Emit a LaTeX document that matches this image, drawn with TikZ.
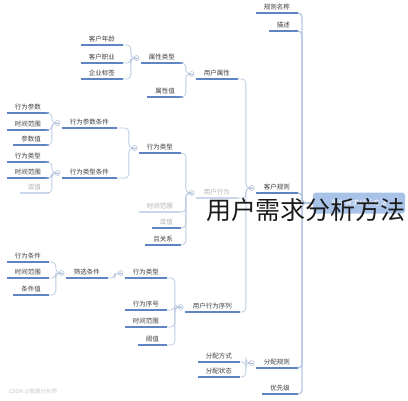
\documentclass[tikz,border=0pt]{standalone}
\usepackage{fontspec}
\setmainfont{Noto Sans CJK SC}
\usetikzlibrary{calc,positioning}

\definecolor{txt}{HTML}{3D3D3D}
\definecolor{fade}{HTML}{B0B0B0}
\definecolor{ulinec}{HTML}{5F84C4}
\definecolor{upalec}{HTML}{C9D6EB}
\definecolor{linkc}{HTML}{BCCBE3}
\definecolor{trunkc}{HTML}{B3C6E3}
\definecolor{knobc}{HTML}{A9B9D4}
\definecolor{boxc}{HTML}{A9C3E8}
\definecolor{titlec}{HTML}{1A1A1A}

\begin{document}
\begin{tikzpicture}[x=1pt,y=-1pt,
    every node/.style={font=\fontsize{6.5}{7}\selectfont,text=txt},
    uline/.style={draw=ulinec,line width=1.3pt},
    upale/.style={draw=upalec,line width=1.3pt},
    topicbase/.style={anchor=south east,inner xsep=8pt,inner ysep=2pt,text height=5pt,text depth=1pt},
    topic/.style={topicbase,append after command={(\tikzlastnode.south west) edge[uline] (\tikzlastnode.south east)}},
    topicpale/.style={topicbase,text=fade,append after command={(\tikzlastnode.south west) edge[upale] (\tikzlastnode.south east)}},
    knob/.style={circle,draw=knobc,fill=white,line width=0.5pt,inner sep=0pt,minimum size=5pt,
      path picture={\draw[knobc,line width=0.4pt] ([xshift=-1.2pt]path picture bounding box.center) -- ([xshift=1.2pt]path picture bounding box.center);}},
    link/.style={draw=linkc,line width=0.8pt,rounded corners=4pt},
    trunk/.style={draw=trunkc,line width=1.3pt,rounded corners=4pt},
    rootbox/.style={fill=boxc,rounded corners=3pt,minimum width=92pt,minimum height=21pt,text=white,font=\fontsize{7}{8}\selectfont}]
  \useasboundingbox (0,0) rectangle (408,400);

  % root and first level
  \node[rootbox] (root) at (359,203) {用户需求分析方法};
  \node[topic] (rule) at (298,13) {规则名称};
  \node[topic] (desc) at (298,31) {描述};
  \node[topic] (cust) at (298,193) {客户规则};
  \node[topic] (alloc) at (298,368) {分配规则};
  \node[topic] (prio) at (298,394) {优先级};
  \coordinate (hub) at (302,203);

  % customer rule
  \node[topic] (attr) at (238,79) {用户属性};
  \node[topicpale] (beh) at (238,198) {用户行为};
  \node[topic] (seq) at (240,312) {用户行为序列};

  \node[topic] (attrType) at (183,63) {属性类型};
  \node[topic] (attrVal) at (183,97) {属性值};
  \node[topic] (age) at (123,45) {客户年龄};
  \node[topic] (job) at (123,63) {客户职业};
  \node[topic] (tag) at (123,79) {企业标签};

  \node[topic] (bType) at (181,153) {行为类型};
  \node[topicpale] (bTime) at (181,212) {时间范围};
  \node[topic,text=fade] (bOr) at (181,228) {或值};
  \node[topic] (bAnd) at (181,245) {且关系};
  \node[topic] (pCond) at (117,128) {行为参数条件};
  \node[topic] (tCond) at (117,178) {行为类型条件};
  \node[topic] (p1) at (49,113) {行为参数};
  \node[topic] (p2) at (49,130) {时间范围};
  \node[topic] (p3) at (49,145) {参数值};
  \node[topic] (t1) at (49,162) {行为类型};
  \node[topic] (t2) at (49,178) {时间范围};
  \node[topicpale] (t3) at (49,193) {或值};

  \node[topic] (sType) at (167,278) {行为类型};
  \node[topic] (sNo) at (167,310) {行为序号};
  \node[topic] (sTime) at (167,327) {时间范围};
  \node[topic] (sThr) at (167,345) {阈值};
  \node[topic] (filt) at (108,278) {筛选条件};
  \node[topic] (f1) at (49,262) {行为条件};
  \node[topic] (f2) at (49,278) {时间范围};
  \node[topic] (f3) at (49,295) {条件值};

  % allocation
  \node[topic] (aWay) at (240,362) {分配方式};
  \node[topic] (aState) at (240,377) {分配状态};

  \foreach \p in {cust,attr,beh,seq,attrType,bType,pCond,tCond,sType,filt,alloc}
    \node[knob] (k-\p) at ([shift={(-4,-5)}]\p.south west) {};

  \foreach \c in {rule,desc,cust,alloc,prio}
    \draw[trunk] (\c.south east) -| (hub) -- (root.west);

  \foreach \p/\c in {cust/attr,cust/beh,cust/seq,attr/attrType,attr/attrVal,
      attrType/age,attrType/job,attrType/tag,beh/bType,beh/bTime,beh/bOr,beh/bAnd,
      bType/pCond,bType/tCond,pCond/p1,pCond/p2,pCond/p3,tCond/t1,tCond/t2,tCond/t3,
      seq/sType,seq/sNo,seq/sTime,seq/sThr,sType/filt,filt/f1,filt/f2,filt/f3,
      alloc/aWay,alloc/aState}
    \draw[link] (\c.south east) -| ([xshift=-3pt]k-\p.west) -- (k-\p.west);

  \node[text=fade!70,font=\fontsize{5.5}{6}\selectfont] (mark) at (33,392) {CSDN @数据分析师};
  \node[text=titlec,font=\fontsize{25}{27}\selectfont] (title) at (306,210) {用户需求分析方法};
\end{tikzpicture}
\end{document}
